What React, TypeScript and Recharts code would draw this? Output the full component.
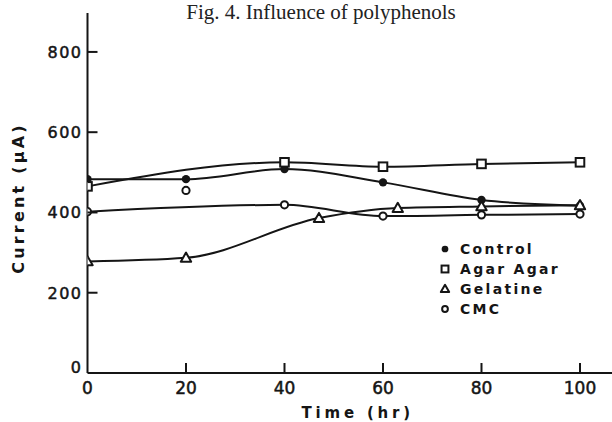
import { ComposedChart, Line, Scatter, XAxis, YAxis } from "recharts";

const INK = "#151515";

// time axis (hr) and current axis (µA)
const TIME_TICKS = [0, 20, 40, 60, 80, 100];
const CURRENT_TICKS = [0, 200, 400, 600, 800];

const CONTROL_TIME = [0, 20, 40, 60, 80, 100];
const CONTROL_UA = [483, 483, 508, 475, 431, 417];

const AGAR_TIME = [0, 40, 60, 80, 100];
const AGAR_UA = [465, 525, 514, 521, 525];

const GELATINE_TIME = [0, 20, 47, 63, 80, 100];
const GELATINE_UA = [278, 287, 386, 411, 415, 418];

const CMC_TIME = [0, 40, 60, 80, 100];
const CMC_UA = [402, 419, 391, 394, 396];

// CMC reading at 20 hr sits off the fitted curve
const CMC_STRAY_TIME = [20];
const CMC_STRAY_UA = [455];

type Kind = "control" | "agar" | "gelatine" | "cmc";

const SERIES: { kind: Kind; name: string; time: number[]; ua: number[] }[] = [
  { kind: "control", name: "Control", time: CONTROL_TIME, ua: CONTROL_UA },
  { kind: "agar", name: "Agar Agar", time: AGAR_TIME, ua: AGAR_UA },
  { kind: "gelatine", name: "Gelatine", time: GELATINE_TIME, ua: GELATINE_UA },
  { kind: "cmc", name: "CMC", time: CMC_TIME, ua: CMC_UA },
];

const toPoints = (time: number[], ua: number[]) =>
  time.map((t, i) => ({ time: t, current: ua[i] }));

function Marker({ kind, cx, cy, scale = 1 }: { kind: Kind; cx: number; cy: number; scale?: number }) {
  if (cx == null || cy == null) return null;
  if (kind === "control") {
    return <circle cx={cx} cy={cy} r={4.2 * scale} fill={INK} stroke="none" />;
  }
  if (kind === "agar") {
    const h = 4.3 * scale;
    return (
      <rect x={cx - h} y={cy - h} width={h * 2} height={h * 2} fill="#fff" stroke={INK} strokeWidth={2} />
    );
  }
  if (kind === "gelatine") {
    const s = 5.2 * scale;
    return (
      <polygon
        points={`${cx},${cy - s} ${cx - s},${cy + s * 0.75} ${cx + s},${cy + s * 0.75}`}
        fill="#fff"
        stroke={INK}
        strokeWidth={2}
        strokeLinejoin="round"
      />
    );
  }
  return <circle cx={cx} cy={cy} r={3.6 * scale} fill="#fff" stroke={INK} strokeWidth={2} />;
}

function TimeTick(props: any) {
  const { x, y, payload } = props;
  return (
    <g>
      {payload.value !== 0 && <line x1={x} y1={y} x2={x} y2={y - 10} stroke={INK} strokeWidth={2} />}
      <text
        x={x}
        y={y + 21}
        textAnchor="middle"
        fontFamily="DejaVu Sans, sans-serif"
        fontSize={17}
        stroke={INK}
        strokeWidth={0.5}
        fill={INK}
      >
        {payload.value}
      </text>
    </g>
  );
}

function CurrentTick(props: any) {
  const { x, y, payload } = props;
  const lift = payload.value === 0 ? -6 : 0;
  return (
    <g>
      {payload.value !== 0 && <line x1={x} y1={y} x2={x + 10} y2={y} stroke={INK} strokeWidth={2} />}
      <text
        x={x - 5}
        y={y + lift + 6}
        textAnchor="end"
        fontFamily="DejaVu Sans, sans-serif"
        fontSize={16}
        letterSpacing={1.5}
        stroke={INK}
        strokeWidth={0.5}
        fill={INK}
      >
        {payload.value}
      </text>
    </g>
  );
}

function TimeLabel(props: any) {
  const { viewBox } = props;
  return (
    <text
      x={viewBox.x + viewBox.width / 2 + 8}
      y={viewBox.y + 45}
      textAnchor="middle"
      fontFamily="DejaVu Sans, sans-serif"
      fontWeight="bold"
      fontSize={15}
      letterSpacing={3.8}
      fill={INK}
    >
      Time (hr)
    </text>
  );
}

function CurrentLabel(props: any) {
  const { viewBox } = props;
  const cx = 24;
  const cy = viewBox.y + viewBox.height / 2 + 5;
  return (
    <text
      x={cx}
      y={cy}
      transform={`rotate(-90 ${cx} ${cy})`}
      textAnchor="middle"
      fontFamily="DejaVu Sans, sans-serif"
      fontWeight="bold"
      fontSize={16}
      letterSpacing={3.2}
      fill={INK}
    >
      Current (µA)
    </text>
  );
}

function LegendBox() {
  return (
    <div
      style={{
        position: "absolute",
        left: 438,
        top: 239,
        fontFamily: "DejaVu Sans, sans-serif",
        fontWeight: "bold",
        fontSize: 14,
        color: INK,
      }}
    >
      {SERIES.map((s) => (
        <div key={s.kind} style={{ display: "flex", alignItems: "center", height: 20 }}>
          <svg width={14} height={14} style={{ marginRight: 8 }}>
            <Marker kind={s.kind} cx={7} cy={7} scale={0.8} />
          </svg>
          <span style={{ letterSpacing: 2.3, whiteSpace: "nowrap" }}>{s.name}</span>
        </div>
      ))}
    </div>
  );
}

export default function App() {
  return (
    <div style={{ position: "absolute", left: 0, top: 0, width: 612, height: 422, background: "#fff", overflow: "hidden" }}>
      <ComposedChart width={612} height={422} margin={{ top: 13, right: 0, bottom: 19, left: 0 }}>
        <XAxis
          type="number"
          dataKey="time"
          domain={[0, 106.5]}
          ticks={TIME_TICKS}
          allowDataOverflow
          tickLine={false}
          tickSize={0}
          tickMargin={0}
          tick={(p: any) => <TimeTick {...p} />}
          axisLine={{ stroke: INK, strokeWidth: 2 }}
          height={30}
          label={<TimeLabel />}
        />
        <YAxis
          type="number"
          dataKey="current"
          domain={[0, 897]}
          ticks={CURRENT_TICKS}
          allowDataOverflow
          tickLine={false}
          tickSize={0}
          tickMargin={0}
          tick={(p: any) => <CurrentTick {...p} />}
          axisLine={{ stroke: INK, strokeWidth: 2 }}
          width={87.5}
          label={<CurrentLabel />}
        />
        {SERIES.map((s) => (
          <Line
            key={s.kind}
            data={toPoints(s.time, s.ua)}
            dataKey="current"
            name={s.name}
            type="monotone"
            stroke={INK}
            strokeWidth={2}
            dot={(p: any) => <Marker key={`${s.kind}-${p.index}`} kind={s.kind} cx={p.cx} cy={p.cy} />}
            activeDot={false}
            isAnimationActive={false}
          />
        ))}
        <Scatter
          data={toPoints(CMC_STRAY_TIME, CMC_STRAY_UA)}
          dataKey="current"
          name="CMC (20 hr)"
          legendType="none"
          shape={(p: any) => <Marker kind="cmc" cx={p.cx} cy={p.cy} />}
          isAnimationActive={false}
        />
      </ComposedChart>
      <div
        style={{
          position: "absolute",
          left: 321,
          top: 0,
          transform: "translateX(-50%)",
          whiteSpace: "nowrap",
          fontFamily: "Liberation Serif, serif",
          fontSize: 21,
          lineHeight: "normal",
          color: "#222",
        }}
      >
        Fig. 4. Influence of polyphenols
      </div>
      <LegendBox />
    </div>
  );
}
